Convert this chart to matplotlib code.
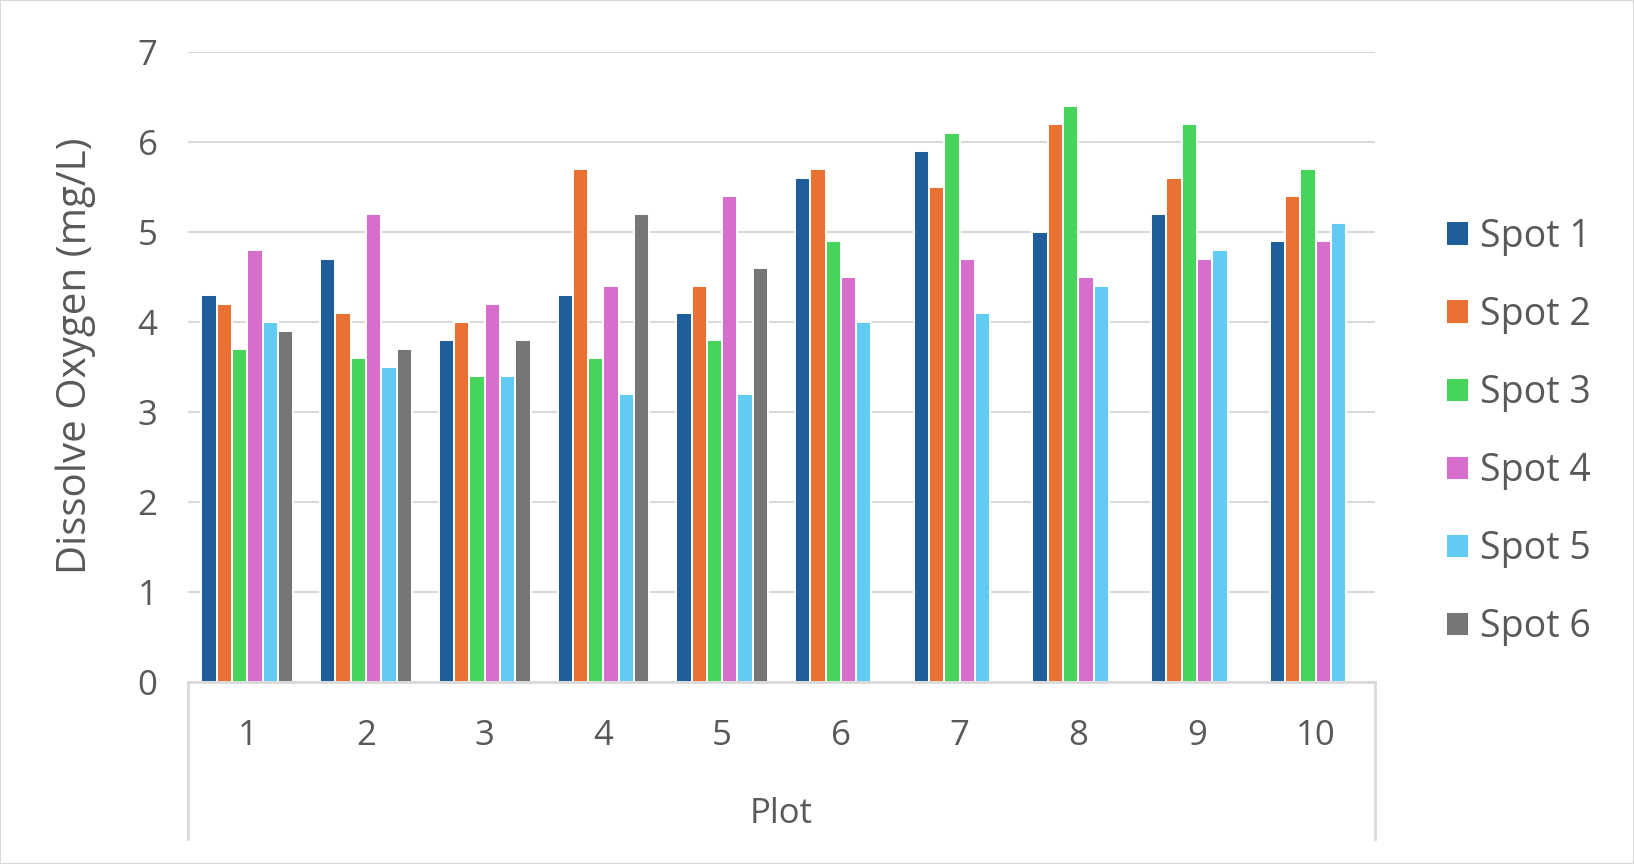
import numpy as np
import matplotlib
matplotlib.use("Agg")
import matplotlib.pyplot as plt
from matplotlib.patches import Rectangle

# values (mg/L); nan = no reading
plots = ["1", "2", "3", "4", "5", "6", "7", "8", "9", "10"]
spot1 = [4.3, 4.7, 3.8, 4.3, 4.1, 5.6, 5.9, 5.0, 5.2, 4.9]
spot2 = [4.2, 4.1, 4.0, 5.7, 4.4, 5.7, 5.5, 6.2, 5.6, 5.4]
spot3 = [3.7, 3.6, 3.4, 3.6, 3.8, 4.9, 6.1, 6.4, 6.2, 5.7]
spot4 = [4.8, 5.2, 4.2, 4.4, 5.4, 4.5, 4.7, 4.5, 4.7, 4.9]
spot5 = [4.0, 3.5, 3.4, 3.2, 3.2, 4.0, 4.1, 4.4, 4.8, 5.1]
spot6 = [3.9, 3.7, 3.8, 5.2, 4.6, np.nan, np.nan, np.nan, np.nan, np.nan]
spot_names = ["Spot 1", "Spot 2", "Spot 3", "Spot 4", "Spot 5", "Spot 6"]
colors = ["#205E9B", "#E97132", "#47D45A", "#D86ECC", "#61CBF3", "#767676"]

plt.rcParams["font.family"] = ["Open Sans", "DejaVu Sans"]
TXT = "#595959"
GRID = "#D9D9D9"

W, H = 1634, 864
fig = plt.figure(figsize=(W / 100, H / 100), dpi=100)
fig.patches.append(Rectangle((0, 0), 1, 1, transform=fig.transFigure,
                             fill=False, edgecolor=GRID, linewidth=1.5))

left, right, bottom, top = 188, 1375, 681.7, 51.7
ax = fig.add_axes([left / W, 1 - bottom / H, (right - left) / W, (bottom - top) / H])

x = np.arange(len(plots))
slot = 0.129
series = [spot1, spot2, spot3, spot4, spot5, spot6]
for i, (vals, name, c) in enumerate(zip(series, spot_names, colors)):
    ax.bar(x + (i - 2.5) * slot, vals, width=slot, color=c, label=name,
           edgecolor="white", linewidth=1.4, zorder=3)

ax.set_xlim(-0.5, len(plots) - 0.5)
ax.set_ylim(0, 7)
ax.set_yticks(range(0, 8))
ax.yaxis.grid(True, color=GRID, linewidth=1.5, zorder=0)
for s in ["top", "right", "left"]:
    ax.spines[s].set_visible(False)
ax.spines["bottom"].set_color(GRID)
ax.spines["bottom"].set_linewidth(2)
ax.spines["bottom"].set_zorder(4)

ax.tick_params(axis="y", length=0, pad=22, labelsize=25, labelcolor=TXT)
ax.set_xticks(x)
ax.set_xticklabels(plots)
ax.tick_params(axis="x", length=0, pad=26.5, labelsize=25, labelcolor=TXT)

# multi-level category box below the axis
box_bottom = (bottom - 839) / (bottom - top)
for xa in (0, 1):
    ax.plot([xa, xa], [0, box_bottom], transform=ax.transAxes, color=GRID,
            linewidth=2, clip_on=False)
ax.text(0.5, (bottom - 814) / (bottom - top), "Plot", transform=ax.transAxes,
        ha="center", va="center", fontsize=25, color=TXT)

ax.set_ylabel("Dissolve Oxygen (mg/L)", fontsize=29, color=TXT)
ax.yaxis.set_label_coords((96 - left) / (right - left), 0.517)

ax.legend(loc="center left", bbox_to_anchor=(1427 / W, 0.5),
          bbox_transform=fig.transFigure, frameon=False, fontsize=27,
          labelcolor=TXT, handlelength=0.62, handleheight=0.62,
          handletextpad=0.3, borderpad=0, labelspacing=1.07)

fig.savefig("out.png", dpi=100)
